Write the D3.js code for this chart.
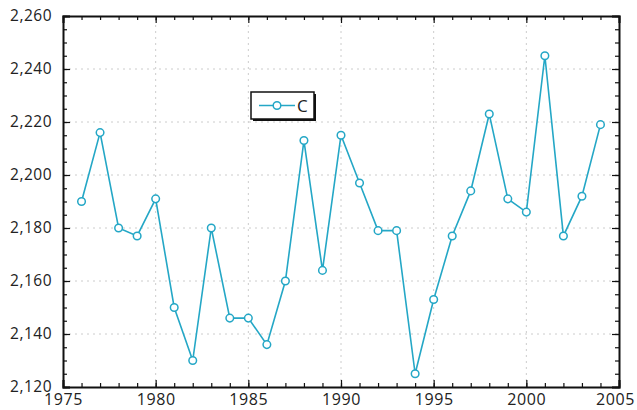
<!DOCTYPE html>
<html>
<head>
<meta charset="utf-8">
<script src="https://cdn.jsdelivr.net/npm/d3@7"></script>
<style>
  body { margin: 0; background: #fff; }
  text { font-family: "Open Sans", sans-serif; fill: #222; }
</style>
</head>
<body>
<div id="chart"></div>
<script>
const years = d3.range(1976, 2005);
const values = [2190, 2216, 2180, 2177, 2191, 2150, 2130, 2180, 2146, 2146,
  2136, 2160, 2213, 2164, 2215, 2197, 2179, 2179, 2125, 2153,
  2177, 2194, 2223, 2191, 2186, 2245, 2177, 2192, 2219];
const xTicks = [1975, 1980, 1985, 1990, 1995, 2000, 2005];
const yTicks = [2120, 2140, 2160, 2180, 2200, 2220, 2240, 2260];
const seriesName = "C";

const width = 637, height = 410;
const margin = {top: 16, right: 18, bottom: 23, left: 63};
const color = "#24a7c6";

const svg = d3.select("#chart").append("svg")
  .attr("width", width)
  .attr("height", height);

const x = d3.scaleLinear().domain([1975, 2005]).range([margin.left, width - margin.right]);
const y = d3.scaleLinear().domain([2120, 2260]).range([height - margin.bottom, margin.top]);

const fmt = d3.format(",");

// grid
svg.append("g").selectAll("line")
  .data(yTicks.slice(1, -1))
  .enter().append("line")
  .attr("x1", x(1975)).attr("x2", x(2005))
  .attr("y1", d => y(d)).attr("y2", d => y(d))
  .attr("stroke", "#cccccc").attr("stroke-dasharray", "2,4");
svg.append("g").selectAll("line")
  .data(xTicks.slice(1, -1))
  .enter().append("line")
  .attr("y1", y(2120)).attr("y2", y(2260))
  .attr("x1", d => x(d)).attr("x2", d => x(d))
  .attr("stroke", "#cccccc").attr("stroke-dasharray", "2,4");

// axes, ticks pointing inward
const minorX = d3.range(1975, 2006);
const minorY = d3.range(2120, 2261, 5);

svg.append("g")
  .attr("transform", `translate(0,${y(2120)})`)
  .call(d3.axisBottom(x).tickValues(minorX).tickSize(-4).tickFormat(""))
  .call(g => g.select(".domain").remove());
svg.append("g")
  .attr("transform", `translate(0,${y(2120)})`)
  .call(d3.axisBottom(x).tickValues(xTicks).tickSize(-7).tickPadding(7).tickFormat(d3.format("d")))
  .call(g => g.selectAll("text").style("font-size", "16px").attr("letter-spacing", "0.6px"))
  .call(g => g.selectAll("text").filter(d => d === 2005).attr("dx", "-4"));
svg.append("g")
  .attr("transform", `translate(0,${y(2260)})`)
  .call(d3.axisTop(x).tickValues(minorX).tickSize(-4).tickFormat(""))
  .call(g => g.select(".domain").remove());
svg.append("g")
  .attr("transform", `translate(0,${y(2260)})`)
  .call(d3.axisTop(x).tickValues(xTicks).tickSize(-7).tickFormat(""));

svg.append("g")
  .attr("transform", `translate(${x(1975)},0)`)
  .call(d3.axisLeft(y).tickValues(minorY).tickSize(-4).tickFormat(""))
  .call(g => g.select(".domain").remove());
svg.append("g")
  .attr("transform", `translate(${x(1975)},0)`)
  .call(d3.axisLeft(y).tickValues(yTicks).tickSize(-7).tickPadding(11).tickFormat(fmt))
  .call(g => g.selectAll("text").style("font-size", "15.5px").attr("letter-spacing", "0.5px"));
svg.append("g")
  .attr("transform", `translate(${x(2005)},0)`)
  .call(d3.axisRight(y).tickValues(minorY).tickSize(-4).tickFormat(""))
  .call(g => g.select(".domain").remove());
svg.append("g")
  .attr("transform", `translate(${x(2005)},0)`)
  .call(d3.axisRight(y).tickValues(yTicks).tickSize(-7).tickFormat(""));

svg.selectAll(".domain").attr("stroke", "#111").attr("stroke-width", 2);
svg.selectAll(".tick line").attr("stroke", "#111").attr("stroke-width", 1.2);

// series
const pts = years.map((yr, i) => ({yr, v: values[i]}));
svg.append("path")
  .datum(pts)
  .attr("fill", "none")
  .attr("stroke", color)
  .attr("stroke-width", 1.6)
  .attr("d", d3.line().x(d => x(d.yr)).y(d => y(d.v)));
svg.append("g").selectAll("circle")
  .data(pts)
  .enter().append("circle")
  .attr("cx", d => x(d.yr)).attr("cy", d => y(d.v))
  .attr("r", 3.8)
  .attr("fill", "#fff")
  .attr("stroke", color)
  .attr("stroke-width", 1.5);

// legend
const lg = svg.append("g").attr("transform", "translate(251,92)");
lg.append("rect").attr("x", 2).attr("y", 2).attr("width", 63).attr("height", 27).attr("fill", "#111");
lg.append("rect").attr("width", 63).attr("height", 27).attr("fill", "#fff").attr("stroke", "#111").attr("stroke-width", 1.5);
lg.append("line").attr("x1", 8).attr("x2", 44).attr("y1", 13.5).attr("y2", 13.5)
  .attr("stroke", color).attr("stroke-width", 1.6);
lg.append("circle").attr("cx", 26).attr("cy", 13.5).attr("r", 3.8)
  .attr("fill", "#fff").attr("stroke", color).attr("stroke-width", 1.5);
lg.append("text").attr("x", 46).attr("y", 19.5).style("font-size", "17px").text(seriesName);
</script>
</body>
</html>
